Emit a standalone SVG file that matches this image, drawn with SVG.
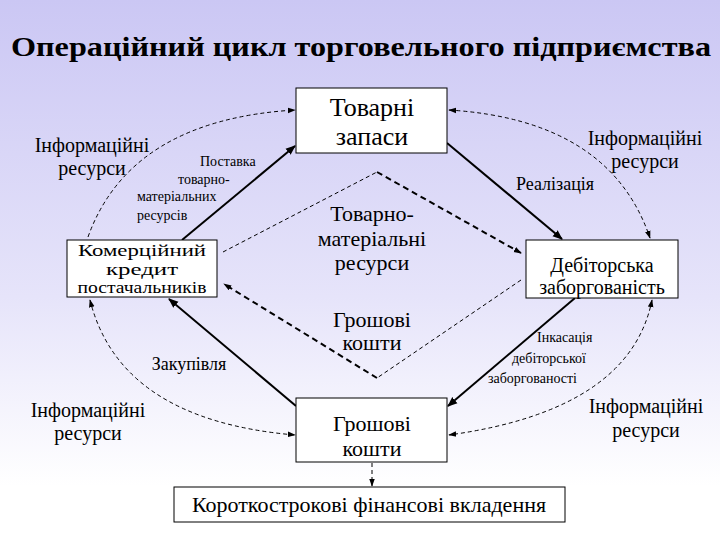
<svg xmlns="http://www.w3.org/2000/svg" width="720" height="540" viewBox="0 0 720 540" font-family="'Liberation Serif', 'Times New Roman', Tinos, 'DejaVu Serif', 'Noto Serif', serif">
<defs>
<linearGradient id="bg" x1="0" y1="0" x2="0" y2="1">
<stop offset="0" stop-color="#cbc7f4"/>
<stop offset="0.55" stop-color="#e6e4fa"/>
<stop offset="0.9" stop-color="#ffffff"/>
<stop offset="1" stop-color="#ffffff"/>
</linearGradient>
<marker id="big" viewBox="0 0 10 10" refX="9" refY="5" markerWidth="10" markerHeight="10" markerUnits="userSpaceOnUse" orient="auto">
<path d="M0,1 L10,5 L0,9 Z" fill="#000"/>
</marker>
<marker id="sm" viewBox="0 0 10 10" refX="9" refY="5" markerWidth="8" markerHeight="8" markerUnits="userSpaceOnUse" orient="auto-start-reverse">
<path d="M0,1.5 L10,5 L0,8.5 Z" fill="#000"/>
</marker>
</defs>
<style>
text{font-family:'Liberation Serif','Times New Roman',Tinos,'DejaVu Serif','Noto Serif',serif;fill:#000;text-anchor:middle}
.box{fill:#fff;stroke:#000;stroke-width:1}
.solid{fill:none;stroke:#000;stroke-width:2}
.thin{fill:none;stroke:#000;stroke-width:1;stroke-dasharray:4 3}
.thick{fill:none;stroke:#000;stroke-width:2;stroke-dasharray:6 4}
.lbl{font-size:20px}
.sml{font-size:14px;text-anchor:start}
</style>
<rect x="0" y="0" width="720" height="540" fill="url(#bg)"/>
<text x="361" y="56" font-size="28" font-weight="bold" textLength="700" lengthAdjust="spacingAndGlyphs">Операційний цикл торговельного підприємства</text>

<g id="connectors">
<line class="solid" x1="182" y1="240" x2="295" y2="146" marker-end="url(#big)"/>
<line class="solid" x1="447" y1="143" x2="562" y2="239" marker-end="url(#big)"/>
<line class="solid" x1="575" y1="298" x2="448" y2="406" marker-end="url(#big)"/>
<line class="solid" x1="296" y1="406" x2="169" y2="299" marker-end="url(#big)"/>
<path class="thin" d="M88,237 Q130,120 295,110" marker-end="url(#sm)"/>
<path class="thin" d="M449,110 Q610,120 650,238" marker-start="url(#sm)" marker-end="url(#sm)"/>
<path class="thin" d="M652,300 Q630,410 449,435" marker-start="url(#sm)" marker-end="url(#sm)"/>
<path class="thin" d="M90,300 Q120,420 295,435" marker-start="url(#sm)" marker-end="url(#sm)"/>
<path class="thin" d="M223,252 L377,172"/>
<path class="thick" d="M377,172 L521,253" marker-end="url(#sm)"/>
<path class="thin" d="M521,280 L377,378"/>
<path class="thick" d="M377,378 L224,284" marker-end="url(#sm)"/>
<path class="thin" d="M372,463 L372,486" marker-end="url(#sm)"/>
</g>

<g id="n-tovarni-zapasy">
<rect class="box" x="296" y="88" width="151" height="65"/>
<text x="372" y="116" font-size="26">Товарні</text>
<text x="372" y="145" font-size="26">запаси</text>
</g>
<g id="n-komertsiinyi-kredyt">
<rect class="box" x="67" y="240" width="150" height="57"/>
<text x="142" y="256" font-size="16.5" textLength="128" lengthAdjust="spacingAndGlyphs">Комерційний</text>
<text x="142" y="275" font-size="16.5" textLength="72" lengthAdjust="spacingAndGlyphs">кредит</text>
<text x="142" y="293" font-size="16" textLength="129" lengthAdjust="spacingAndGlyphs">постачальників</text>
</g>
<g id="n-debitorska">
<rect class="box" x="526" y="240" width="152" height="58"/>
<text x="602" y="272" font-size="20">Дебіторська</text>
<text x="602" y="294" font-size="20">заборгованість</text>
</g>
<g id="n-groshovi-koshty">
<rect class="box" x="296" y="398" width="151" height="64"/>
<text x="372" y="431" font-size="22">Грошові</text>
<text x="372" y="456" font-size="22">кошти</text>
</g>
<g id="n-korotkostrokovi">
<rect class="box" x="174" y="487" width="391" height="35"/>
<text x="369" y="512" font-size="22">Короткострокові фінансові вкладення</text>
</g>

<g id="labels">
<text class="lbl" x="92" y="152">Інформаційні</text>
<text class="lbl" x="92" y="175">ресурси</text>
<text class="lbl" x="645" y="145">Інформаційні</text>
<text class="lbl" x="645" y="168">ресурси</text>
<text class="lbl" x="88" y="417">Інформаційні</text>
<text class="lbl" x="88" y="440">ресурси</text>
<text class="lbl" x="646" y="413">Інформаційні</text>
<text class="lbl" x="646" y="437">ресурси</text>
<text class="sml" x="200" y="166">Поставка</text>
<text class="sml" x="178" y="184">товарно-</text>
<text class="sml" x="137" y="201">матеріальних</text>
<text class="sml" x="137" y="220">ресурсів</text>
<text x="555" y="190" font-size="18">Реалізація</text>
<text x="189" y="370" font-size="18">Закупівля</text>
<text class="sml" x="537" y="342">Інкасація</text>
<text class="sml" x="512" y="363">дебіторської</text>
<text class="sml" x="488" y="383">заборгованості</text>
<text x="372" y="221" font-size="22">Товарно-</text>
<text x="372" y="246" font-size="22">матеріальні</text>
<text x="372" y="270" font-size="22">ресурси</text>
<text x="372" y="327" font-size="22">Грошові</text>
<text x="372" y="350" font-size="22">кошти</text>
</g>
</svg>
